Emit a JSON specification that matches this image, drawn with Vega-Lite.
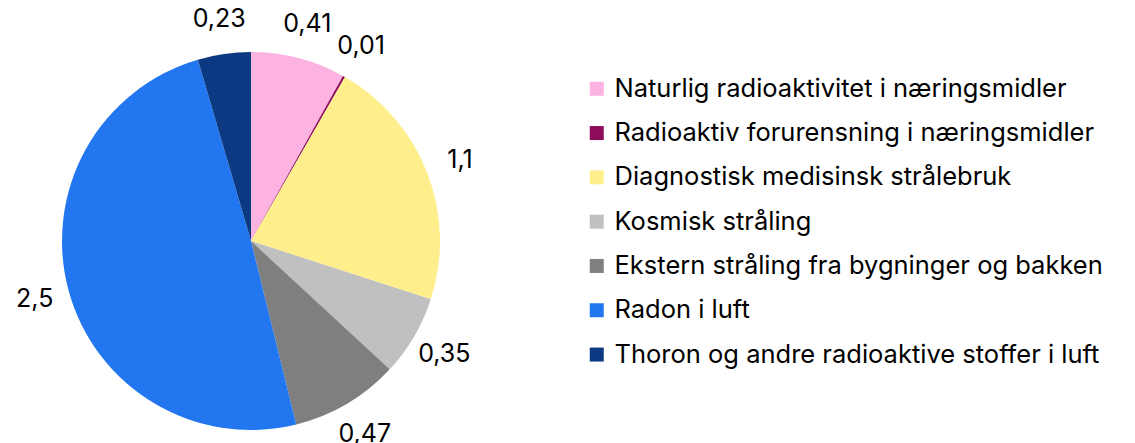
{
  "$schema": "https://vega.github.io/schema/vega-lite/v6.json",
  "width": 502,
  "height": 404,
  "autosize": "none",
  "padding": {"left": 0, "top": 39, "right": 633, "bottom": 0},
  "background": "white",
  "config": {"view": {"stroke": null}, "font": "Inter"},
  "data": {"values": [
    {"i": 1, "kilde": "Naturlig radioaktivitet i næringsmidler", "v": 0.41, "lbl": "0,41"},
    {"i": 2, "kilde": "Radioaktiv forurensning i næringsmidler", "v": 0.01, "lbl": "0,01"},
    {"i": 3, "kilde": "Diagnostisk medisinsk strålebruk", "v": 1.1, "lbl": "1,1"},
    {"i": 4, "kilde": "Kosmisk stråling", "v": 0.35, "lbl": "0,35"},
    {"i": 5, "kilde": "Ekstern stråling fra bygninger og bakken", "v": 0.47, "lbl": "0,47"},
    {"i": 6, "kilde": "Radon i luft", "v": 2.5, "lbl": "2,5"},
    {"i": 7, "kilde": "Thoron og andre radioaktive stoffer i luft", "v": 0.23, "lbl": "0,23"}
  ]},
  "encoding": {
    "theta": {"field": "v", "type": "quantitative", "stack": true},
    "order": {"field": "i", "type": "quantitative"}
  },
  "layer": [
    {
      "mark": {"type": "arc", "outerRadius": 189},
      "encoding": {
        "color": {
          "field": "kilde", "type": "nominal", "sort": null,
          "scale": {
            "domain": ["Naturlig radioaktivitet i næringsmidler", "Radioaktiv forurensning i næringsmidler", "Diagnostisk medisinsk strålebruk", "Kosmisk stråling", "Ekstern stråling fra bygninger og bakken", "Radon i luft", "Thoron og andre radioaktive stoffer i luft"],
            "range": ["#FCB3E2", "#8E0B5C", "#FFEF8C", "#C0C0C0", "#7F7F7F", "#2276F0", "#0B3A82"]
          },
          "legend": {
            "title": null,
            "orient": "none",
            "legendX": 584,
            "legendY": 37,
            "symbolType": "square",
            "symbolSize": 196,
            "symbolStrokeWidth": 0,
            "labelFontSize": 25.5,
            "labelFont": "Inter",
            "labelColor": "#000000",
            "labelLimit": 600,
            "labelOffset": 5,
            "rowPadding": 17.3
          }
        }
      }
    },
    {
      "mark": {"type": "text", "radius": 224, "fontSize": 25, "font": "Inter", "color": "#000000"},
      "encoding": {"text": {"field": "lbl", "type": "nominal"}}
    }
  ]
}
